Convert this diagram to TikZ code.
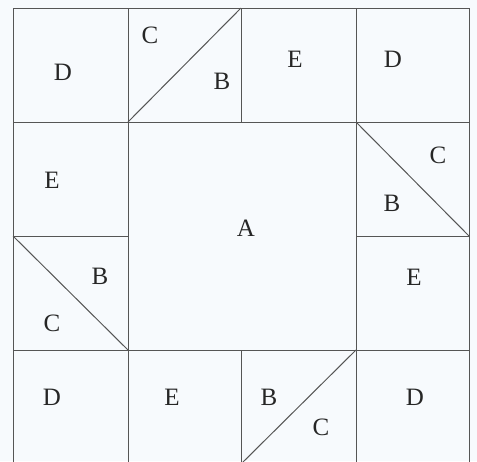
\documentclass[tikz,border=0pt]{standalone}
\usepackage{fontspec}
\setmainfont{Liberation Serif}
\usepackage{xcolor}
\definecolor{SeamGray}{HTML}{555555}
\definecolor{PaperTint}{HTML}{F7FAFD}
\usepackage{tikz}
\usetikzlibrary{positioning}

\begin{document}
\begin{tikzpicture}[
  x=0.5pt, y=-0.5pt,
  font=\fontsize{12.5}{14}\selectfont,
  seam/.style={draw=SeamGray, line width=0.5pt},
  patch/.style={inner sep=0pt, text=black!85},
]

\useasboundingbox[fill=PaperTint] (0,0) rectangle (477,461);

% quilt block outline and seams
\coordinate (tl) at (13,8);
\coordinate (tr) at (469,8);
\draw[seam] (13,464) -- (tl) -- (tr) -- (469,464);
\draw[seam] (13,122) -- (469,122);
\draw[seam] (13,350) -- (469,350);
\draw[seam] (13,236) -- (128,236);
\draw[seam] (356,236) -- (469,236);
\draw[seam] (128,8) -- (128,464);
\draw[seam] (356,8) -- (356,464);
\draw[seam] (241,8) -- (241,122);
\draw[seam] (241,350) -- (241,464);

% half-square triangles
\draw[seam] (128,122) -- (241,8);
\draw[seam] (356,122) -- (469,236);
\draw[seam] (13,236) -- (128,350);
\draw[seam] (241,464) -- (356,350);

% row 1
\node[patch] (d1) at (63,72) {D};
\node[patch] (c1) at (150,35) {C};
\node[patch] (b1) at (222,81) {B};
\node[patch] (e1) at (295,59) {E};
\node[patch] (d2) at (393,59) {D};

% rows 2 and 3
\node[patch] (e2) at (52,180) {E};
\node[patch] (a)  at (246,228) {A};
\node[patch] (c2) at (438,155) {C};
\node[patch] (b2) at (392,203) {B};
\node[patch] (b3) at (100,276) {B};
\node[patch] (c3) at (52,323) {C};
\node[patch] (e3) at (414,277) {E};

% row 4
\node[patch] (d3) at (52,397) {D};
\node[patch] (e4) at (172,397) {E};
\node[patch] (b4) at (269,397) {B};
\node[patch] (c4) at (321,427) {C};
\node[patch] (d4) at (415,397) {D};

\end{tikzpicture}
\end{document}
